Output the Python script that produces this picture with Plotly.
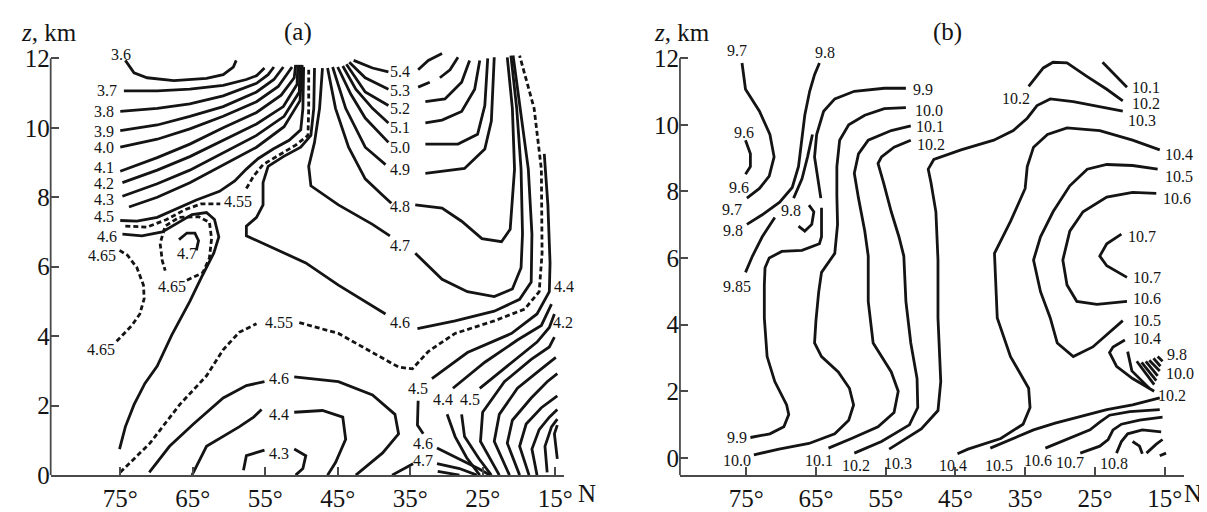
import plotly.graph_objects as go

# ================= Panel (a): isolines, latitude (deg N) vs height z (km) =================
a36_lat = [74.3, 73.1, 71.3, 67.6, 63.1, 60.8, 59.4, 59.0]
a36_z = [11.94, 11.58, 11.44, 11.36, 11.42, 11.53, 11.75, 11.94]
a37_lat = [74.5, 69.9, 65.4, 60.8, 57.6, 56.2, 55.1]
a37_z = [11.06, 11.06, 11.11, 11.22, 11.39, 11.5, 11.72]
a38_lat = [75.0, 69.9, 65.4, 60.8, 56.2, 54.6, 53.8]
a38_z = [10.47, 10.56, 10.69, 10.92, 11.28, 11.53, 11.75]
a39_lat = [75.0, 69.9, 65.4, 60.8, 56.2, 53.8, 52.5]
a39_z = [9.92, 10.08, 10.33, 10.61, 11.03, 11.39, 11.75]
a40_lat = [75.0, 69.9, 65.4, 60.8, 56.2, 53.2, 51.3]
a40_z = [9.44, 9.67, 9.97, 10.33, 10.75, 11.19, 11.75]
a41_lat = [75.0, 69.9, 65.4, 60.8, 56.2, 52.8, 51.0, 50.8]
a41_z = [8.75, 9.14, 9.53, 10.0, 10.44, 10.94, 11.44, 11.81]
a42_lat = [74.7, 69.9, 65.4, 60.8, 56.2, 52.5, 50.6, 50.5]
a42_z = [8.42, 8.78, 9.17, 9.64, 10.11, 10.61, 11.25, 11.81]
a43_lat = [74.7, 69.9, 65.4, 60.8, 56.2, 52.4, 50.3, 50.2]
a43_z = [8.03, 8.39, 8.78, 9.28, 9.78, 10.33, 11.03, 11.81]
a44_lat = [73.8, 69.9, 65.4, 60.8, 56.2, 52.4, 50.2, 49.9]
a44_z = [7.72, 8.0, 8.42, 8.92, 9.44, 10.03, 10.78, 11.81]
a45_lat = [75.0, 72.7, 69.9, 67.6, 64.5, 61.3, 59.2, 57.6, 56.0, 53.9, 51.7, 50.1, 49.8, 49.7]
a45_z = [7.33, 7.31, 7.42, 7.64, 7.92, 8.17, 8.47, 8.81, 9.11, 9.39, 9.64, 9.94, 10.56, 11.75]
a455u_lat = [74.3, 71.3, 68.6, 66.1, 63.8, 61.2, None, 57.6, 56.6, 55.3, 53.1, 50.8, 49.1, 49.0, 49.0]
a455u_z = [7.17, 7.14, 7.36, 7.64, 7.81, 7.81, None, 8.25, 8.61, 8.94, 9.22, 9.5, 9.78, 10.56, 11.67]
a46c_lat = [48.2, 48.3, 48.7, 50.1, 52.5, 54.6, 55.3, 55.3, 56.2, 57.6, 57.6, 53.9, 49.4, 44.9, 38.4, None,
            34.0, 28.8, 23.4, 19.9, 18.3, 18.2, 18.7, 19.8, 20.8]
a46c_z = [11.72, 10.56, 9.78, 9.44, 9.17, 8.89, 8.42, 7.78, 7.42, 7.17, 6.89, 6.53, 6.11, 5.47, 4.64, None,
          4.22, 4.44, 4.72, 5.06, 5.56, 6.94, 8.81, 10.56, 12.08]
a47c_lat = [47.1, 47.5, 48.2, 49.0, 48.7, 44.9, 40.2, 37.8, None,
            34.3, 30.6, 27.1, 23.4, 20.9, 19.7, 19.5, 19.7, 20.3, 21.1]
a47c_z = [11.72, 10.56, 9.58, 8.89, 8.33, 7.78, 7.22, 6.89, None,
          6.39, 5.64, 5.28, 5.14, 5.36, 5.97, 6.94, 8.81, 10.56, 12.08]
a48_lat = [46.4, 45.3, 43.5, 41.2, 38.8, 37.6, None, 34.3, 30.6, 27.9, 25.1, 22.4, 21.2, 20.6, 20.9, 21.6]
a48_z = [11.72, 10.56, 9.44, 8.53, 8.06, 7.83, None, 7.78, 7.69, 7.31, 6.81, 6.72, 7.08, 8.81, 10.56, 12.03]
a49_lat = [45.7, 43.9, 41.2, 38.4, None, 32.9, 27.5, 24.7, 23.8, 23.4]
a49_z = [11.75, 10.56, 9.44, 8.94, None, 8.69, 8.83, 9.39, 10.19, 12.03]
a50_lat = [45.0, 43.2, 41.2, 38.0, None, 32.9, 28.4, 25.7, 24.7, 24.3]
a50_z = [11.75, 10.97, 10.28, 9.58, None, 9.53, 9.53, 9.81, 10.64, 12.0]
a51_lat = [44.3, 42.5, 40.2, 38.0, None, 32.9, 30.6, 27.9, 26.1, 25.4]
a51_z = [11.78, 11.11, 10.56, 10.14, None, 10.14, 10.22, 10.47, 11.11, 11.94]
a52_lat = [43.8, 41.2, 38.0, None, 32.9, 30.2, 27.9, 26.8]
a52_z = [11.83, 11.03, 10.64, None, 10.75, 10.83, 11.31, 11.94]
a53_lat = [43.4, 41.2, 38.0, None, 33.9, 32.3, None, 30.9, 29.5, 28.4]
a53_z = [11.89, 11.44, 11.11, None, 11.17, 11.31, None, 11.44, 11.67, 12.03]
a54_lat = [42.8, 40.2, 38.0, None, 33.9, 32.5, 30.6]
a54_z = [11.94, 11.72, 11.61, None, 11.67, 11.94, 12.14]
a455d_lat = [75.0, 70.9, 66.8, 63.1, 60.8, 58.6, 56.2, None, 50.3, 44.9, 40.2, 36.6, 34.7, 32.5, 28.8,
             23.4, 19.2, 17.2, 16.8, 16.9, 17.9, 19.9]
a455d_z = [0.08, 0.92, 2.03, 2.86, 3.61, 4.11, 4.36, None, 4.39, 4.08, 3.53, 3.11, 3.06, 3.56, 4.08,
           4.44, 4.78, 5.28, 6.39, 8.81, 10.56, 12.08]
a45o_lat = [16.5, 16.0, 15.7, 15.8, 17.5, 21.0, 27.1, 32.0]
a45o_z = [9.25, 7.78, 6.11, 5.28, 4.64, 4.08, 3.53, 2.78]
aF2_lat = [29.1, 24.7, 20.2, 16.9, 15.5]
aF2_z = [2.5, 3.25, 3.89, 4.31, 4.92]
aF3_lat = [25.4, 21.0, 17.5, 15.8, 15.1]
aF3_z = [2.5, 3.25, 3.83, 4.25, 4.64]
aF4_lat = [22.7, 25.3, 25.0, 22.0, 18.3, 15.8, 15.1]
aF4_z = [0.0, 0.97, 1.81, 2.69, 3.33, 3.69, 3.97]
aF5_lat = [21.3, 23.4, 22.7, 20.2, 16.9, 14.9]
aF5_z = [0.0, 0.97, 1.75, 2.5, 3.06, 3.39]
aF6_lat = [19.9, 21.6, 20.9, 18.3, 16.1, 14.7]
aF6_z = [0.0, 0.92, 1.58, 2.22, 2.69, 2.92]
aF7_lat = [18.6, 19.9, 19.0, 16.9, 14.7]
aF7_z = [0.0, 0.83, 1.47, 1.94, 2.28]
aF8_lat = [17.5, 18.2, 17.2, 15.8, 14.7]
aF8_z = [0.0, 0.75, 1.31, 1.67, 1.89]
aF9_lat = [16.1, 16.4, 15.5, 14.7]
aF9_z = [0.08, 0.83, 1.39, 1.61]
aF10_lat = [14.7, 15.1, 14.7]
aF10_z = [0.47, 1.19, 1.44]
aD1_lat = [29.9, 28.8, 27.2, 25.4]
aD1_z = [1.75, 1.11, 0.5, 0.0]
aD2_lat = [27.9, 27.5, 25.5, 23.8]
aD2_z = [1.75, 1.11, 0.47, 0.0]
aB1_lat = [33.9, 34.0, 33.2]
aB1_z = [2.14, 1.44, 1.19]
aB2_lat = [31.3, 27.9, 25.4, 24.0]
aB2_z = [0.78, 0.44, 0.17, 0.0]
aB3_lat = [37.5, 35.7, 34.6, None, 31.3, 28.2, 25.8]
aB3_z = [0.0, 0.22, 0.33, None, 0.33, 0.19, 0.0]
aB4_lat = [31.2, 28.2]
aB4_z = [0.11, 0.0]
a46lo_lat = [71.0, 68.2, 64.9, 60.8, 57.6, 55.1, None, 51.0, 44.9, 40.2, 37.1, 36.6, 38.8, 42.5]
a46lo_z = [0.08, 0.83, 1.47, 2.22, 2.58, 2.69, None, 2.83, 2.69, 2.31, 1.75, 1.19, 0.64, 0.0]
a44lo_lat = [65.1, 63.1, 58.6, 56.6, 55.5, None, 51.0, 47.1, 44.3, 43.9, 45.3, 46.4]
a44lo_z = [0.0, 0.83, 1.39, 1.67, 1.89, None, 1.81, 1.86, 1.67, 1.03, 0.36, 0.0]
a43lo_lat = [58.0, 57.6, 55.1, None, 51.0, 49.4, 49.8, 50.8]
a43lo_z = [0.14, 0.56, 0.72, None, 0.75, 0.56, 0.19, 0.0]
a46L_lat = [74.7, 72.0, 69.2, 67.2, 65.1, 63.1, 62.0, 61.4, 62.1, 63.8, 65.4, 67.9, 69.9, 71.6, 73.1, 74.3, 75.1]
a46L_z = [6.94, 6.89, 7.0, 7.25, 7.5, 7.56, 7.36, 6.86, 6.39, 5.69, 5.0, 4.03, 3.14, 2.64, 2.03, 1.39, 0.75]
a465in_lat = [65.8, 63.6, 62.7, 62.4, 62.7, 64.2, 66.9, 68.8, 69.5, 69.2, 68.8]
a465in_z = [5.61, 5.83, 6.25, 6.81, 7.28, 7.44, 7.42, 7.17, 6.67, 6.17, 5.89]
a47s_lat = [66.9, 65.8, 64.7, 64.2, 64.5]
a47s_z = [6.78, 6.97, 6.97, 6.75, 6.47]
a465L_lat = [75.1, 74.0, 72.7, 71.8, 71.7, 72.3, 73.4, 74.7, 75.7]
a465L_z = [6.47, 6.33, 5.97, 5.47, 5.08, 4.64, 4.31, 4.03, 3.81]

a_lab_text = ["3.6", "3.7", "3.8", "3.9", "4.0", "4.1", "4.2", "4.3", "4.5", "4.6", "4.65", "4.55", "4.7",
              "4.65", "4.65", "5.4", "5.3", "5.2", "5.1", "5.0", "4.9", "4.8", "4.7", "4.6", "4.55", "4.6",
              "4.4", "4.3", "4.5", "4.4", "4.5", "4.6", "4.7", "4.4", "4.2", "4.0", "3.8", "3.6"]
a_lab_lat = [74.9, 76.8, 77.2, 77.2, 77.2, 77.2, 77.2, 77.2, 77.2, 76.8, 77.5, 58.7, 65.8,
             67.9, 77.7, 36.4, 36.4, 36.4, 36.4, 36.4, 36.4, 36.4, 36.4, 36.4, 53.1, 53.1,
             53.1, 53.1, 33.9, 30.5, 26.8, 33.2, 33.2, 13.8, 13.9, 13.6, 13.5, 13.4]
a_lab_z = [12.11, 11.06, 10.47, 9.89, 9.42, 8.85, 8.4, 7.93, 7.44, 6.86, 6.31, 7.89, 6.39,
           5.44, 3.61, 11.61, 11.06, 10.56, 10.0, 9.44, 8.81, 7.72, 6.61, 4.39, 4.39, 2.78,
           1.75, 0.61, 2.5, 2.17, 2.17, 0.92, 0.42, 5.42, 4.39, 3.58, 2.81, 2.11]

# ================= Panel (b) =================
b97_lat = [75.6, 75.1, 73.1, 71.6, 71.0, 71.7, 73.1, 74.9]
b97_z = [11.86, 11.07, 10.41, 9.71, 9.04, 8.46, 8.09, 7.8]
b96_lat = [75.1, 74.4, 74.4, 75.1]
b96_z = [9.54, 9.13, 8.75, 8.52]
b98_lat = [74.9, 72.7, 70.2, 68.4, 67.5, 67.0, 66.6, 65.9, 65.2, 64.5]
b98_z = [7.01, 7.3, 7.68, 8.12, 8.75, 9.54, 10.29, 11.01, 11.51, 11.86]
b985_lat = [70.9, 72.7, 74.1, 75.1]
b985_z = [7.22, 6.64, 6.06, 5.57]
b98h_lat = [66.0, 65.3, 65.6, 66.6, 67.5]
b98h_z = [7.59, 7.39, 7.01, 6.81, 6.96]
b98s_lat = [68.2, 67.0, 66.2, 65.5]
b98s_z = [7.8, 8.38, 9.04, 9.71]
b99_lat = [52.1, 55.2, 59.5, 62.3, 63.9, 64.9, 65.2, 64.6, 64.3, None, 64.2, 64.2, 64.5, 67.0, 69.9,
           71.7, 72.3, 72.4, 72.4, 72.0, 70.9, 69.2, 68.9, 69.6, 71.6, 74.4]
b99_z = [11.1, 11.1, 11.01, 10.78, 10.41, 9.71, 9.04, 8.26, 7.8, None, 7.51, 6.64, 6.43, 6.23, 6.2,
         6.0, 5.71, 5.19, 4.2, 3.04, 2.29, 1.59, 1.3, 0.93, 0.72, 0.61]
b100_lat = [52.1, 55.2, 58.0, 60.3, 61.6, 62.0, 62.0, 61.9, 62.3, 64.2, 64.6, 65.0, 65.2, 64.2, 61.8,
            60.2, 59.6, 60.3, 62.3, 66.0, 70.3, 73.9]
b100_z = [10.52, 10.49, 10.29, 10.0, 9.54, 8.75, 7.88, 7.01, 6.14, 5.57, 4.99, 4.12, 3.45, 3.04, 2.58,
          2.09, 1.59, 1.13, 0.72, 0.43, 0.26, 0.09]
b101_lat = [51.4, 54.2, 57.5, 58.9, 59.5, 58.9, 58.0, 57.5, 57.5, 56.8, 54.2, 53.2, 53.8, 56.1, 59.9, 63.2]
b101_z = [9.97, 9.83, 9.54, 9.13, 8.55, 7.8, 6.81, 6.06, 4.7, 3.45, 2.58, 2.0, 1.36, 0.93, 0.58, 0.29]
b102_lat = [51.4, 53.8, 55.6, 56.1, 55.3, 54.2, 53.1, 52.4, 52.1, 51.4, 50.5, 50.4, 51.6, 55.6, 59.5]
b102_z = [9.54, 9.33, 9.04, 8.84, 8.26, 7.39, 6.64, 6.06, 4.7, 3.45, 2.38, 1.51, 0.99, 0.49, 0.14]
b103_lat = [21.0, 24.3, 28.1, 31.4, 33.3, 34.7, 36.7, 39.5, 44.2, 48.1, 48.9, 48.5, 47.8, 47.5, 47.5,
            47.1, 47.5, 49.9, 52.8, 54.5]
b103_z = [10.41, 10.55, 10.7, 10.78, 10.58, 10.2, 9.83, 9.54, 9.25, 8.96, 8.67, 8.26, 7.39, 5.94, 4.2,
          2.29, 1.42, 0.87, 0.49, 0.26]
b102arc_lat = [34.5, 32.4, 31.0, 29.0, 26.1, 23.3, 21.0]
b102arc_z = [11.16, 11.71, 11.88, 11.86, 11.45, 11.07, 10.72]
b101s_lat = [23.9, 22.2, 20.4]
b101s_z = [11.88, 11.51, 11.13]
b104_lat = [15.7, 19.6, 24.3, 29.0, 31.8, 33.8, 34.7, 35.0, 37.1, 39.4, 39.0, 37.1, 34.5, 34.3, 35.3,
            38.5, 43.2, 44.7]
b104_z = [9.25, 9.54, 9.83, 9.91, 9.71, 9.33, 8.75, 8.09, 7.1, 6.14, 4.2, 3.04, 2.09, 1.51, 1.01,
          0.58, 0.26, 0.12]
b105_lat = [16.0, 19.6, 23.3, 26.1, 28.6, 31.0, 32.8, 33.8, 32.8, 31.4, 30.4, 28.1, 25.3, 21.0]
b105_z = [8.67, 8.78, 8.81, 8.67, 8.17, 7.39, 6.64, 5.94, 4.99, 4.2, 3.45, 3.04, 3.33, 4.12]
b106_lat = [16.2, 19.6, 23.3, 26.7, 28.6, 29.6, 29.0, 27.6, 24.7, 20.4]
b106_z = [7.94, 7.97, 7.83, 7.39, 6.81, 5.94, 5.19, 4.7, 4.61, 4.7]
b107_lat = [21.2, 23.3, 24.3, 23.3, 20.4]
b107_z = [6.72, 6.43, 6.06, 5.77, 5.42]
b104s_lat = [20.7, 22.4, 22.9, 21.9, 19.6, 17.2, 16.5]
b104s_z = [3.54, 3.33, 3.16, 2.75, 2.38, 2.09, 2.0]
bf1_lat = [20.3, 19.7, 17.2]
bf1_z = [3.19, 2.61, 2.09]
bf2_lat = [19.0, 16.5]
bf2_z = [2.9, 2.2]
bf3_lat = [18.3, 16.2]
bf3_z = [2.87, 2.32]
bf4_lat = [17.7, 16.0]
bf4_z = [2.9, 2.46]
bf5_lat = [17.2, 15.7]
bf5_z = [2.93, 2.61]
bf6_lat = [16.6, 15.6]
bf6_z = [2.99, 2.75]
bf7_lat = [16.0, 15.3]
bf7_z = [3.04, 2.9]
bR1_lat = [40.0, 37.1, 33.8, 30.7, 27.6, 23.3, 19.6, 15.7]
bR1_z = [0.29, 0.55, 0.84, 1.04, 1.22, 1.45, 1.59, 1.8]
bR2_lat = [32.1, 28.6, 25.7, 24.3, 22.9, 20.0, 15.7]
bR2_z = [0.29, 0.58, 0.84, 1.07, 1.28, 1.39, 1.45]
bR3_lat = [27.1, 24.3, 23.1, 22.4, 21.2, 18.6, 15.3]
bR3_z = [0.14, 0.35, 0.55, 0.84, 1.01, 1.13, 1.22]
bR4_lat = [21.9, 21.2, 20.3, 18.2, 15.5]
bR4_z = [0.14, 0.49, 0.72, 0.84, 0.78]
bR5_lat = [19.6, 18.6, 18.2]
bR5_z = [0.49, 0.35, 0.12]
bR6_lat = [17.6, 16.2, 15.3]
bR6_z = [0.14, 0.41, 0.55]
bR7_lat = [15.7, 14.8]
bR7_z = [0.06, 0.14]

b_lab_text = ["9.7", "9.8", "9.6", "9.6", "9.7", "9.8", "9.8", "9.85", "9.9", "10.0", "10.1", "10.2",
              "10.2", "10.1", "10.2", "10.3", "10.4", "10.5", "10.6", "10.7", "10.7", "10.6", "10.5",
              "10.4", "9.8", "10.0", "10.2", "9.9", "10.0", "10.1", "10.2", "10.3", "10.4", "10.5",
              "10.6", "10.7", "10.8"]
b_lab_lat = [76.3, 63.7, 75.3, 76.1, 77.0, 76.9, 68.6, 76.3, 49.6, 48.8, 48.6, 48.5,
             36.3, 17.7, 17.7, 18.2, 12.9, 12.9, 13.2, 18.3, 17.6, 17.5, 17.5,
             17.6, 13.2, 12.8, 13.9, 76.3, 76.3, 64.6, 59.2, 53.2, 45.4, 38.8,
             33.1, 28.6, 22.2]
b_lab_z = [12.23, 12.17, 9.77, 8.12, 7.45, 6.84, 7.42, 5.16, 11.07, 10.43, 9.94, 9.42,
           10.78, 11.13, 10.64, 10.12, 9.1, 8.46, 7.8, 6.64, 5.42, 4.78, 4.12,
           3.59, 3.1, 2.52, 1.88, 0.61, -0.09, -0.09, -0.23, -0.17, -0.23, -0.23,
           -0.09, -0.14, -0.17]

lat_ticks = [75, 65, 55, 45, 35, 25, 15]
lat_ticktext = ["75°", "65°", "55°", "45°", "35°", "25°", "15°"]
z_ticks = [0, 2, 4, 6, 8, 10, 12]

# ================= build figure =================
INK = "#141414"
AX = "#4a4a4a"
SERIF = "Liberation Serif, Times New Roman, serif"

fig = go.Figure()


def add_line(lat, z, panel, dashed=False):
    fig.add_trace(go.Scatter(
        x=lat, y=z, mode="lines",
        xaxis="x" if panel == "a" else "x2",
        yaxis="y" if panel == "a" else "y2",
        line=dict(color=INK, width=2.8, dash="5px,3px" if dashed else "solid"),
        hoverinfo="skip", showlegend=False))


solid_a = [(a36_lat, a36_z), (a37_lat, a37_z), (a38_lat, a38_z), (a39_lat, a39_z), (a40_lat, a40_z),
           (a41_lat, a41_z), (a42_lat, a42_z), (a43_lat, a43_z), (a44_lat, a44_z), (a45_lat, a45_z),
           (a46c_lat, a46c_z), (a47c_lat, a47c_z), (a48_lat, a48_z), (a49_lat, a49_z), (a50_lat, a50_z),
           (a51_lat, a51_z), (a52_lat, a52_z), (a53_lat, a53_z), (a54_lat, a54_z), (a45o_lat, a45o_z),
           (aF2_lat, aF2_z), (aF3_lat, aF3_z), (aF4_lat, aF4_z), (aF5_lat, aF5_z), (aF6_lat, aF6_z),
           (aF7_lat, aF7_z), (aF8_lat, aF8_z), (aF9_lat, aF9_z), (aF10_lat, aF10_z), (aD1_lat, aD1_z),
           (aD2_lat, aD2_z), (aB1_lat, aB1_z), (aB2_lat, aB2_z), (aB3_lat, aB3_z), (aB4_lat, aB4_z),
           (a46lo_lat, a46lo_z), (a44lo_lat, a44lo_z), (a43lo_lat, a43lo_z), (a46L_lat, a46L_z),
           (a47s_lat, a47s_z)]
dashed_a = [(a455u_lat, a455u_z), (a455d_lat, a455d_z), (a465in_lat, a465in_z), (a465L_lat, a465L_z)]
solid_b = [(b97_lat, b97_z), (b96_lat, b96_z), (b98_lat, b98_z), (b985_lat, b985_z), (b98h_lat, b98h_z),
           (b98s_lat, b98s_z), (b99_lat, b99_z), (b100_lat, b100_z), (b101_lat, b101_z),
           (b102_lat, b102_z), (b103_lat, b103_z), (b102arc_lat, b102arc_z), (b101s_lat, b101s_z),
           (b104_lat, b104_z), (b105_lat, b105_z), (b106_lat, b106_z), (b107_lat, b107_z),
           (b104s_lat, b104s_z), (bf1_lat, bf1_z), (bf2_lat, bf2_z), (bf3_lat, bf3_z), (bf4_lat, bf4_z),
           (bf5_lat, bf5_z), (bf6_lat, bf6_z), (bf7_lat, bf7_z), (bR1_lat, bR1_z), (bR2_lat, bR2_z),
           (bR3_lat, bR3_z), (bR4_lat, bR4_z), (bR5_lat, bR5_z), (bR6_lat, bR6_z), (bR7_lat, bR7_z)]

for la, zz in solid_a:
    add_line(la, zz, "a")
for la, zz in dashed_a:
    add_line(la, zz, "a", dashed=True)
for la, zz in solid_b:
    add_line(la, zz, "b")

LAB = dict(family=SERIF, size=16, color=INK)
annotations = []
for t, la, zz in zip(a_lab_text, a_lab_lat, a_lab_z):
    annotations.append(dict(x=la, y=zz, xref="x", yref="y", text=t, showarrow=False, font=LAB,
                            borderpad=0))
for t, la, zz in zip(b_lab_text, b_lab_lat, b_lab_z):
    annotations.append(dict(x=la, y=zz, xref="x2", yref="y2", text=t, showarrow=False, font=LAB,
                            borderpad=0))

big = dict(family=SERIF, size=25, color=INK)
for xp, txt in [(0.034, "<i>z</i>, km"), (0.5626, "<i>z</i>, km"), (0.2419, "(a)"), (0.7846, "(b)")]:
    annotations.append(dict(x=xp, y=0.959, xref="paper", yref="paper", text=txt, showarrow=False,
                            xanchor="center", yanchor="middle", font=big))
for xp in [0.4835, 0.9893]:
    annotations.append(dict(x=xp, y=0.026, xref="paper", yref="paper", text="N", showarrow=False,
                            xanchor="center", yanchor="middle", font=big))

xcommon = dict(tickvals=lat_ticks, ticktext=lat_ticktext, ticks="inside", ticklen=8, tickwidth=1.5,
               tickcolor=AX, showline=True, linecolor=AX, linewidth=1.8, showgrid=False, zeroline=False,
               tickfont=big)
ycommon = dict(tickvals=z_ticks, ticks="inside", ticklen=8, tickwidth=1.5, tickcolor=AX,
               showline=False, showgrid=False, zeroline=False, tickfont=big)

fig.update_layout(
    width=1207, height=512, margin=dict(l=0, r=0, t=0, b=0),
    paper_bgcolor="white", plot_bgcolor="white", showlegend=False,
    xaxis=dict(domain=[43 / 1207, 560 / 1207], range=[84.6, 13.8], anchor="y", **xcommon),
    yaxis=dict(domain=[0.0625, 0.92383], range=[0, 12.25], anchor="x", **ycommon),
    xaxis2=dict(domain=[677 / 1207, 1185 / 1207], range=[84.5, 12.2], anchor="y2", **xcommon),
    yaxis2=dict(domain=[0.0625, 0.9265], range=[-0.52, 12.3], anchor="x2", **ycommon),
    annotations=annotations,
    shapes=[
        dict(type="line", xref="x domain", yref="y", x0=0, x1=0, y0=0, y1=12,
             line=dict(color=AX, width=1.8)),
        dict(type="line", xref="x2 domain", yref="y2", x0=0, x1=0, y0=-0.52, y1=12,
             line=dict(color=AX, width=1.8)),
    ],
)

fig.write_html("out.html")
